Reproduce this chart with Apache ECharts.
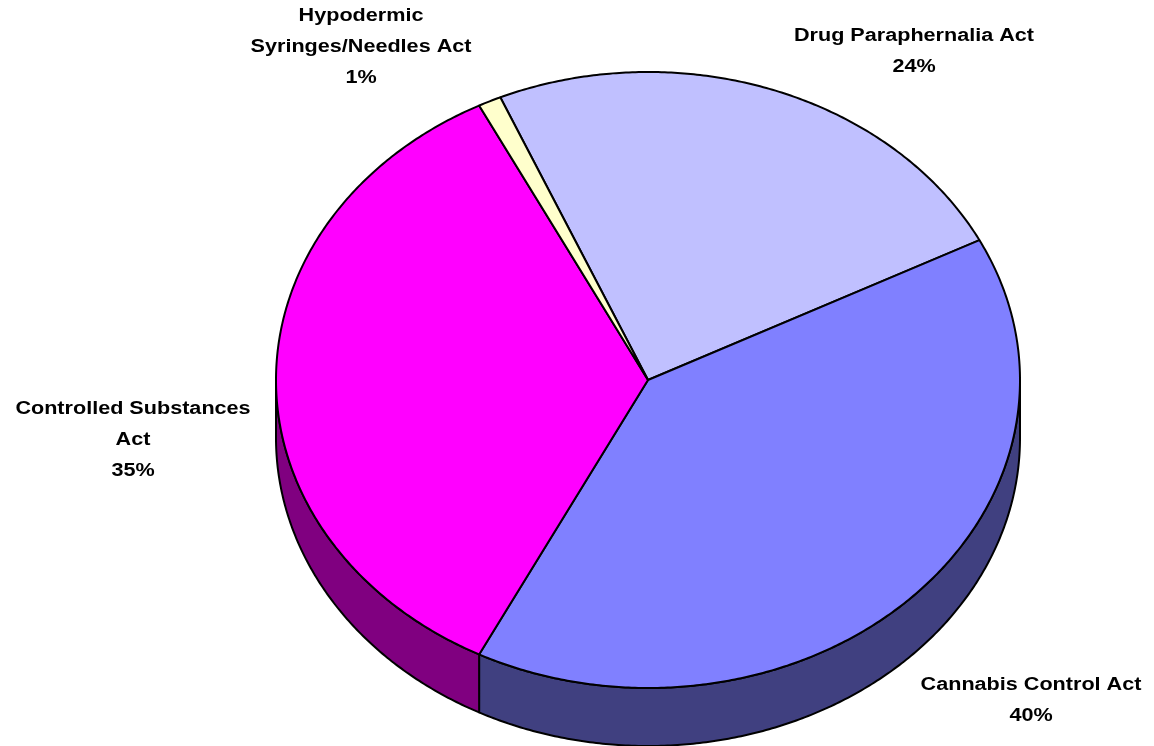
<!DOCTYPE html>
<html>
<head>
<meta charset="utf-8">
<script src="https://cdn.jsdelivr.net/npm/echarts@6/dist/echarts.min.js"></script>
<style>
html,body{margin:0;padding:0;background:#fff;}
#main{width:1154px;height:746px;}
</style>
</head>
<body>
<div id="main"></div>
<script>
// ---- data ----
const categories = ['Drug Paraphernalia Act', 'Cannabis Control Act', 'Controlled Substances Act', 'Hypodermic Syringes/Needles Act'];
const labelNames = ['Drug Paraphernalia Act', 'Cannabis Control Act', 'Controlled Substances\nAct', 'Hypodermic\nSyringes/Needles Act'];
const values = [24, 40, 35, 1];

// ---- styles / layout ----
const topColors = ['#C0C0FF', '#8080FF', '#FF00FF', '#FFFFCC'];
const sideColors = ['#606080', '#404080', '#800080', '#808066'];
const startDeg = -23.4;       // clockwise from 12 o'clock
const geom = { cx: 648, cy: 380, rx: 372, ry: 308, depth: 58 };
// label block centres, relative to pie centre
const labelOffsets = [[266, -328], [383, 321], [-515, 60], [-287, -333]];

const total = values.reduce((a, b) => a + b, 0);
const cum = [];
values.reduce((acc, v, i) => { cum[i] = acc; return acc + v; }, 0);

function pt(deg, dy) {
  const r = deg * Math.PI / 180;
  return [geom.cx + geom.rx * Math.sin(r), geom.cy - geom.ry * Math.cos(r) + (dy || 0)];
}
function arc(a, b, dy) {
  const pts = [];
  const n = Math.max(2, Math.ceil(Math.abs(b - a) / 0.5));
  for (let k = 0; k <= n; k++) pts.push(pt(a + (b - a) * k / n, dy));
  return pts;
}

const chart = echarts.init(document.getElementById('main'), null, { renderer: 'canvas' });

function renderItem(params, api) {
  const i = params.dataIndex;
  const v = api.value(0);
  const a = startDeg + cum[i] / total * 360;
  const b = a + v / total * 360;
  const children = [];
  // side walls: visible front half is 90..270 (and shifted by 360)
  [[90, 270], [450, 630], [-270, -90]].forEach(function (rng) {
    const s = Math.max(a, rng[0]), e = Math.min(b, rng[1]);
    if (e > s) {
      const topArc = arc(s, e, 0);
      const botArc = arc(e, s, geom.depth);
      children.push({
        type: 'polygon', z2: 1,
        shape: { points: topArc.concat(botArc) },
        style: { fill: sideColors[i], stroke: '#000', lineWidth: 2, lineJoin: 'round' }
      });
    }
  });
  // top face
  children.push({
    type: 'polygon', z2: 10,
    shape: { points: [[geom.cx, geom.cy]].concat(arc(a, b, 0)) },
    style: { fill: topColors[i], stroke: '#000', lineWidth: 2, lineJoin: 'round' }
  });
  // label
  const pct = Math.round(v / total * 100) + '%';
  children.push({
    type: 'text', z2: 20,
    x: geom.cx + labelOffsets[i][0],
    y: geom.cy + labelOffsets[i][1],
    scaleX: 1.2,
    style: {
      text: labelNames[i] + '\n' + pct,
      fill: '#000',
      font: 'bold 18px "Liberation Sans", Arial, sans-serif',
      lineHeight: 31,
      align: 'center',
      verticalAlign: 'middle'
    }
  });
  return { type: 'group', children: children };
}

chart.setOption({
  backgroundColor: '#ffffff',
  animation: false,
  series: [{
    type: 'custom',
    coordinateSystem: 'none',
    renderItem: renderItem,
    data: values.map((v, i) => ({ name: categories[i], value: [v] }))
  }]
});
</script>
</body>
</html>
